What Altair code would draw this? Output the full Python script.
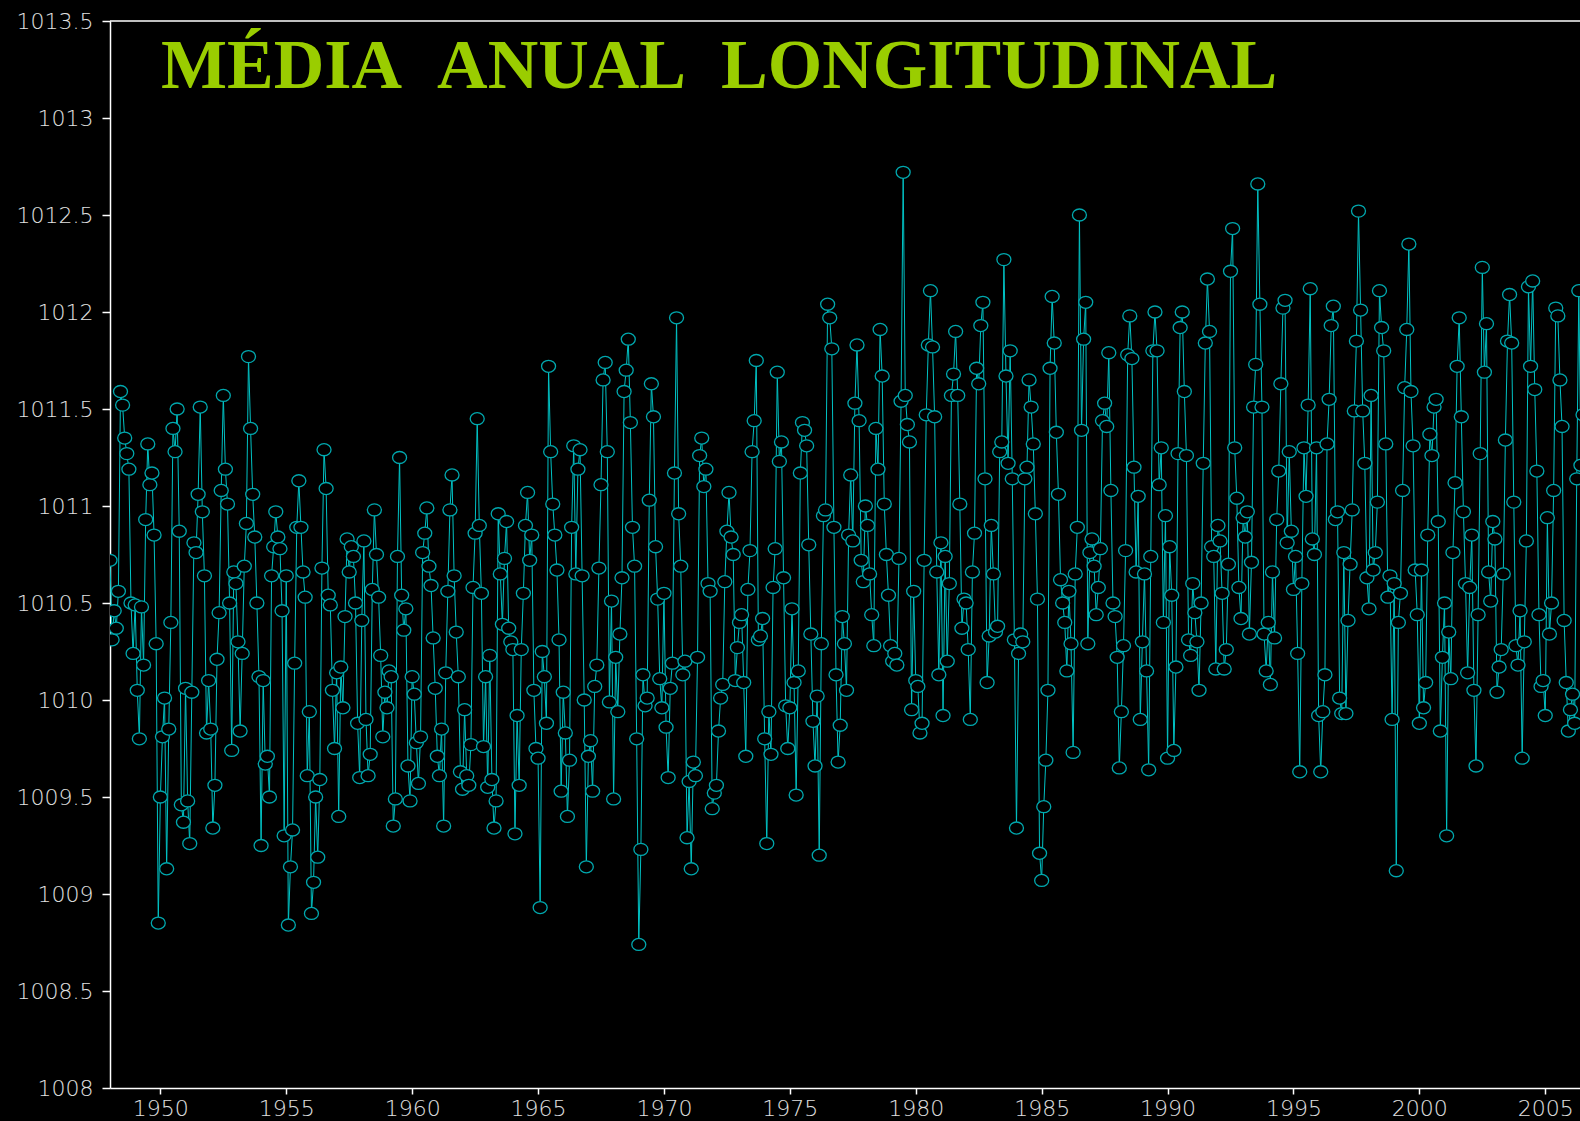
import altair as alt
import pandas as pd

# Monthly sea-level pressure (hPa), January 1948 onwards, one row per year
p1948_1949 = [
    1010.72, 1010.31, 1010.46, 1010.37, 1010.56, 1011.59, 1011.52, 1011.35, 1011.27, 1011.19, 1010.50, 1010.24,
    1010.49, 1010.05, 1009.80, 1010.48, 1010.18, 1010.93, 1011.32, 1011.11, 1011.17, 1010.85, 1010.29, 1008.85,
]
p1950s = [
    1009.50, 1009.81, 1010.01, 1009.13, 1009.85, 1010.40, 1011.40, 1011.28, 1011.50, 1010.87, 1009.46, 1009.37,
    1010.06, 1009.48, 1009.26, 1010.04, 1010.81, 1010.76, 1011.06, 1011.51, 1010.97, 1010.64, 1009.83, 1010.10,
    1009.85, 1009.34, 1009.56, 1010.21, 1010.45, 1011.08, 1011.57, 1011.19, 1011.01, 1010.50, 1009.74, 1010.66,
    1010.60, 1010.30, 1009.84, 1010.24, 1010.69, 1010.91, 1011.77, 1011.40, 1011.06, 1010.84, 1010.50, 1010.12,
    1009.25, 1010.10, 1009.67, 1009.71, 1009.50, 1010.64, 1010.79, 1010.97, 1010.84, 1010.78, 1010.46, 1009.30,
    1010.64, 1008.84, 1009.14, 1009.33, 1010.19, 1010.89, 1011.13, 1010.89, 1010.66, 1010.53, 1009.61, 1009.94,
    1008.90, 1009.06, 1009.50, 1009.19, 1009.59, 1010.68, 1011.29, 1011.09, 1010.54, 1010.49, 1010.05, 1009.75,
    1010.14, 1009.40, 1010.17, 1009.96, 1010.43, 1010.83, 1010.66, 1010.79, 1010.74, 1010.50, 1009.88, 1009.60,
    1010.41, 1010.82, 1009.90, 1009.61, 1009.72, 1010.57, 1010.98, 1010.75, 1010.53, 1010.23, 1009.81, 1010.04,
    1009.96, 1010.15, 1010.12, 1009.35, 1009.49, 1010.74, 1011.25, 1010.54, 1010.36, 1010.47, 1009.66, 1009.48,
]
p1960s = [
    1010.12, 1010.03, 1009.78, 1009.57, 1009.81, 1010.76, 1010.86, 1010.99, 1010.69, 1010.59, 1010.32, 1010.06,
    1009.71, 1009.61, 1009.85, 1009.35, 1010.14, 1010.56, 1010.98, 1011.16, 1010.64, 1010.35, 1010.12, 1009.63,
    1009.54, 1009.95, 1009.61, 1009.56, 1009.77, 1010.58, 1010.86, 1011.45, 1010.90, 1010.55, 1009.76, 1010.12,
    1009.55, 1010.23, 1009.59, 1009.34, 1009.48, 1010.96, 1010.65, 1010.39, 1010.73, 1010.92, 1010.37, 1010.30,
    1010.26, 1009.31, 1009.92, 1009.56, 1010.26, 1010.55, 1010.90, 1011.07, 1010.72, 1010.85, 1010.05, 1009.75,
    1009.70, 1008.93, 1010.25, 1010.12, 1009.88, 1011.72, 1011.28, 1011.01, 1010.85, 1010.67, 1010.31, 1009.53,
    1010.04, 1009.83, 1009.40, 1009.69, 1010.89, 1011.31, 1010.65, 1011.19, 1011.29, 1010.64, 1010.00, 1009.14,
    1009.71, 1009.79, 1009.53, 1010.07, 1010.18, 1010.68, 1011.11, 1011.65, 1011.74, 1011.28, 1009.99, 1010.51,
    1009.49, 1010.22, 1009.94, 1010.34, 1010.63, 1011.59, 1011.70, 1011.86, 1011.43, 1010.89, 1010.69, 1009.80,
    1008.74, 1009.23, 1010.13, 1009.97, 1010.01, 1011.03, 1011.63, 1011.46, 1010.79, 1010.52, 1010.11, 1009.96,
]
p1970s = [
    1010.55, 1009.86, 1009.60, 1010.06, 1010.19, 1011.17, 1011.97, 1010.96, 1010.69, 1010.13, 1010.20, 1009.29,
    1009.58, 1009.13, 1009.68, 1009.61, 1010.22, 1011.26, 1011.35, 1011.10, 1011.19, 1010.60, 1010.56, 1009.44,
    1009.52, 1009.56, 1009.84, 1010.01, 1010.08, 1010.61, 1010.87, 1011.07, 1010.84, 1010.75, 1010.10, 1010.27,
    1010.40, 1010.44, 1010.09, 1009.71, 1010.57, 1010.77, 1011.28, 1011.44, 1011.75, 1010.31, 1010.33, 1010.42,
    1009.80, 1009.26, 1009.94, 1009.72, 1010.58, 1010.78, 1011.69, 1011.23, 1011.33, 1010.63, 1009.97, 1009.75,
    1009.96, 1010.47, 1010.09, 1009.51, 1010.15, 1011.17, 1011.43, 1011.39, 1011.31, 1010.80, 1010.34, 1009.89,
    1009.66, 1010.02, 1009.20, 1010.29, 1010.95, 1010.98, 1012.04, 1011.97, 1011.81, 1010.89, 1010.13, 1009.68,
    1009.87, 1010.43, 1010.29, 1010.05, 1010.85, 1011.16, 1010.82, 1011.53, 1011.83, 1011.44, 1010.72, 1010.61,
    1011.00, 1010.90, 1010.65, 1010.44, 1010.28, 1011.40, 1011.19, 1011.91, 1011.67, 1011.01, 1010.75, 1010.54,
    1010.28, 1010.20, 1010.24, 1010.18, 1010.73, 1011.54, 1012.72, 1011.57, 1011.42, 1011.33, 1009.95, 1010.56,
]
p1980s = [
    1010.10, 1010.07, 1009.83, 1009.88, 1010.72, 1011.47, 1011.83, 1012.11, 1011.82, 1011.46, 1010.66, 1010.13,
    1010.81, 1009.92, 1010.74, 1010.20, 1010.60, 1011.57, 1011.68, 1011.90, 1011.57, 1011.01, 1010.37, 1010.52,
    1010.50, 1010.26, 1009.90, 1010.66, 1010.86, 1011.71, 1011.63, 1011.93, 1012.05, 1011.14, 1010.09, 1010.33,
    1010.90, 1010.65, 1010.35, 1010.38, 1011.28, 1011.33, 1012.27, 1011.67, 1011.22, 1011.80, 1011.14, 1010.31,
    1009.34, 1010.24, 1010.34, 1010.30, 1011.14, 1011.20, 1011.65, 1011.51, 1011.32, 1010.96, 1010.52, 1009.21,
    1009.07, 1009.45, 1009.69, 1010.05, 1011.71, 1012.08, 1011.84, 1011.38, 1011.06, 1010.62, 1010.50, 1010.40,
    1010.15, 1010.56, 1010.29, 1009.73, 1010.65, 1010.89, 1012.50, 1011.39, 1011.86, 1012.05, 1010.29, 1010.76,
    1010.83, 1010.69, 1010.44, 1010.58, 1010.78, 1011.44, 1011.53, 1011.41, 1011.79, 1011.08, 1010.50, 1010.43,
    1010.22, 1009.65, 1009.94, 1010.28, 1010.77, 1011.78, 1011.98, 1011.76, 1011.20, 1010.66, 1011.05, 1009.90,
    1010.30, 1010.65, 1010.15, 1009.64, 1010.74, 1011.80, 1012.00, 1011.80, 1011.11, 1011.30, 1010.40, 1010.95,
]
p1990s = [
    1009.70, 1010.79, 1010.54, 1009.74, 1010.17, 1011.27, 1011.92, 1012.00, 1011.59, 1011.26, 1010.31, 1010.23,
    1010.60, 1010.45, 1010.30, 1010.05, 1010.50, 1011.22, 1011.84, 1012.17, 1011.90, 1010.79, 1010.74, 1010.16,
    1010.90, 1010.82, 1010.55, 1010.16, 1010.26, 1010.70, 1012.21, 1012.43, 1011.30, 1011.04, 1010.58, 1010.42,
    1010.94, 1010.84, 1010.97, 1010.34, 1010.71, 1011.51, 1011.73, 1012.66, 1012.04, 1011.51, 1010.34, 1010.15,
    1010.40, 1010.08, 1010.66, 1010.32, 1010.93, 1011.18, 1011.63, 1012.02, 1012.06, 1010.81, 1011.28, 1010.87,
    1010.57, 1010.74, 1010.24, 1009.63, 1010.60, 1011.30, 1011.05, 1011.52, 1012.12, 1010.83, 1010.75, 1011.30,
    1009.92, 1009.63, 1009.94, 1010.13, 1011.32, 1011.55, 1011.93, 1012.03, 1010.93, 1010.97, 1010.01, 1009.93,
    1010.76, 1009.93, 1010.41, 1010.70, 1010.98, 1011.49, 1011.85, 1012.52, 1012.01, 1011.49, 1011.22, 1010.63,
    1010.47, 1011.57, 1010.67, 1010.76, 1011.02, 1012.11, 1011.92, 1011.80, 1011.32, 1010.53, 1010.64, 1009.90,
    1010.60, 1009.12, 1010.40, 1010.55, 1011.08, 1011.61, 1011.91, 1012.35, 1011.59, 1011.31, 1010.67, 1010.44,
]
p2000s = [
    1009.88, 1010.67, 1009.96, 1010.09, 1010.85, 1011.37, 1011.26, 1011.51, 1011.55, 1010.92, 1009.84, 1010.22,
    1010.50, 1009.30, 1010.35, 1010.11, 1010.76, 1011.12, 1011.72, 1011.97, 1011.46, 1010.97, 1010.60, 1010.14,
    1010.58, 1010.85, 1010.05, 1009.66, 1010.44, 1011.27, 1012.23, 1011.69, 1011.94, 1010.66, 1010.51, 1010.92,
    1010.83, 1010.04, 1010.17, 1010.26, 1010.65, 1011.34, 1011.85, 1012.09, 1011.84, 1011.02, 1010.28, 1010.18,
    1010.46, 1009.70, 1010.30, 1010.82, 1012.13, 1011.72, 1012.16, 1011.60, 1011.18, 1010.44, 1010.07, 1010.10,
    1009.92, 1010.94, 1010.34, 1010.50, 1011.08, 1012.02, 1011.98, 1011.65, 1011.41, 1010.41, 1010.09, 1009.84,
    1009.95, 1010.03, 1009.88, 1011.14, 1012.11, 1011.21, 1011.47,
]

start_year = 1948
x_ticks = [1950, 1955, 1960, 1965, 1970, 1975, 1980, 1985, 1990, 1995, 2000, 2005]
y_ticks = [1008, 1008.5, 1009, 1009.5, 1010, 1010.5, 1011, 1011.5, 1012, 1012.5, 1013, 1013.5]
title_text = "MÉDIA\u00a0\u00a0ANUAL\u00a0\u00a0LONGITUDINAL"

series = p1948_1949 + p1950s + p1960s + p1970s + p1980s + p1990s + p2000s
df = pd.DataFrame({
    "t": [start_year + m / 12 for m in range(len(series))],
    "p": series,
})

W, H = 1470, 1067
label_style = dict(
    labelColor="#e0e0e0",
    labelFont="DejaVu Sans",
    labelFontSize=22,
    labelFontWeight=200,
    domainColor="white",
    domainWidth=1.5,
    tickColor="white",
    tickWidth=1.5,
    grid=False,
    title=None,
)

x_enc = alt.X(
    "t:Q",
    scale=alt.Scale(domain=[1948, 2006.38], nice=False, zero=False),
    axis=alt.Axis(values=x_ticks, format="d", tickSize=6, labelPadding=4,
                  labelFlush=False, labelOverlap=False, **label_style),
)
y_enc = alt.Y(
    "p:Q",
    scale=alt.Scale(domain=[1008, 1013.5], nice=False, zero=False),
    axis=alt.Axis(values=y_ticks, format="~g", tickSize=8, labelPadding=9,
                  labelOverlap=False, **label_style),
)

base = alt.Chart(df).encode(x=x_enc, y=y_enc)

line = base.mark_line(color="#00c2c4", strokeWidth=1, clip=True)

ellipse = "M -1 0 A 1 0.86 0 1 0 1 0 A 1 0.86 0 1 0 -1 0 Z"
points = base.mark_point(
    shape=ellipse, size=196, filled=True, fill="black", stroke="#00a8ae",
    strokeWidth=1.3, opacity=1, fillOpacity=1, clip=True,
)

top_border = alt.Chart(alt.Data(values=[{}])).mark_rule(
    color="white", strokeWidth=1.5
).encode(x=alt.value(0), x2=alt.value(W), y=alt.value(0))

heading = alt.Chart(alt.Data(values=[{"label": title_text}])).mark_text(
    font="Liberation Serif", fontWeight="bold", fontSize=70, color="#9acd00",
    align="left", baseline="alphabetic",
).encode(text="label:N", x=alt.value(51), y=alt.value(67))

chart = alt.layer(line, points, top_border, heading).properties(
    width=W,
    height=H,
    padding={"left": 110, "top": 21, "right": 0, "bottom": 33},
    autosize=alt.AutoSizeParams(type="none"),
    background="black",
).configure_view(stroke=None)

chart.save("out.html", embed_options={"renderer": "svg", "actions": False})
